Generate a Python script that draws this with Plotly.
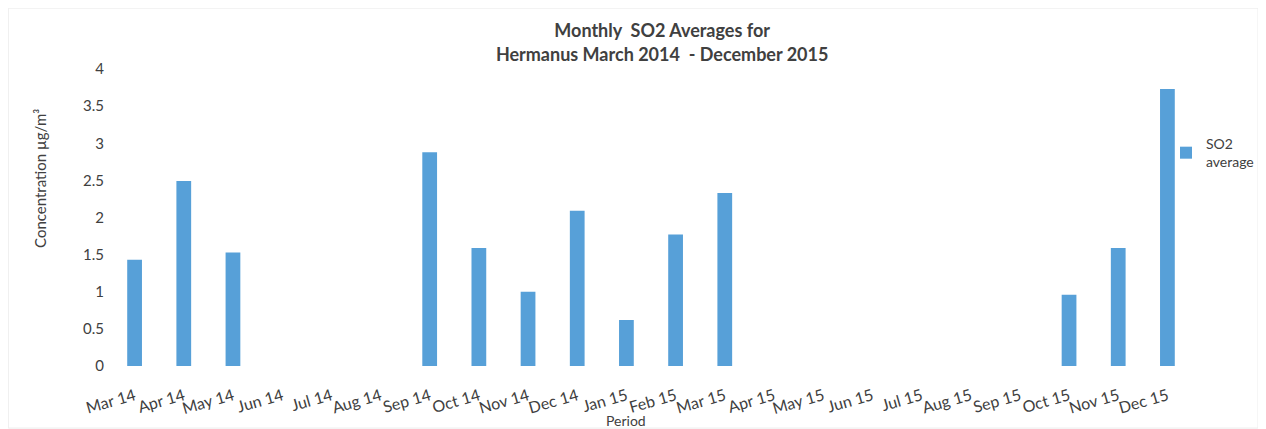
import plotly.graph_objects as go

months = ["Mar 14", "Apr 14", "May 14", "Jun 14", "Jul 14", "Aug 14", "Sep 14", "Oct 14",
          "Nov 14", "Dec 14", "Jan 15", "Feb 15", "Mar 15", "Apr 15", "May 15", "Jun 15",
          "Jul 15", "Aug 15", "Sep 15", "Oct 15", "Nov 15", "Dec 15"]
so2_average = [1.43, 2.49, 1.53, None, None, None, 2.88, 1.59,
               1.00, 2.09, 0.62, 1.77, 2.33, None, None, None,
               None, None, None, 0.96, 1.59, 3.73]
y_ticks = [0, 0.5, 1, 1.5, 2, 2.5, 3, 3.5, 4]

FONT = "Lato"
TXT = "#404040"

fig = go.Figure()
fig.add_trace(go.Bar(
    x=months, y=so2_average, name="SO2<br>average",
    marker=dict(color="#57A0D8", line=dict(width=0)),
))

fig.update_layout(
    width=1258, height=421,
    paper_bgcolor="white", plot_bgcolor="white",
    margin=dict(l=102, r=74, t=61, b=63, autoexpand=False),
    font=dict(family=FONT, color=TXT, size=13),
    title=dict(text="<b>Monthly  SO2 Averages for<br>Hermanus March 2014  - December 2015</b>",
               x=0.520, xanchor="center", y=0.930, yanchor="top", automargin=False,
               font=dict(family=FONT, size=18, color=TXT)),
    bargap=0.7,
    showlegend=True,
    legend=dict(xref="container", yref="container", x=0.9205, y=0.715,
                xanchor="left", yanchor="top", bgcolor="rgba(0,0,0,0)",
                font=dict(family=FONT, size=14, color=TXT),
                itemwidth=30, tracegroupgap=0),
    xaxis=dict(tickangle=-16, showgrid=False, showline=False, ticks="", automargin=False,
               ticklabelstandoff=17,
               tickfont=dict(family=FONT, size=16, color=TXT)),
    yaxis=dict(range=[0, 4], tickvals=y_ticks, ticktext=[str(v) for v in y_ticks],
               showgrid=False, zeroline=False, showline=False, ticks="", automargin=False,
               ticklabelstandoff=5,
               tickfont=dict(family=FONT, size=15, color=TXT)),
    annotations=[
        dict(text="Concentration µg/m³", xref="paper", yref="paper", x=-0.0647, y=0.633,
             xanchor="center", yanchor="middle", textangle=-90, showarrow=False,
             font=dict(family=FONT, size=15, color=TXT)),
        dict(text="Period", xref="paper", yref="paper", x=0.477, y=-0.182,
             xanchor="center", yanchor="middle", showarrow=False,
             font=dict(family=FONT, size=14, color=TXT)),
    ],
    shapes=[dict(type="rect", xref="paper", yref="paper", x0=-0.094, x1=1.061, y0=-0.209, y1=1.205,
                 line=dict(color="#ececec", width=1), layer="below")],
)

fig.write_html("out.html")
